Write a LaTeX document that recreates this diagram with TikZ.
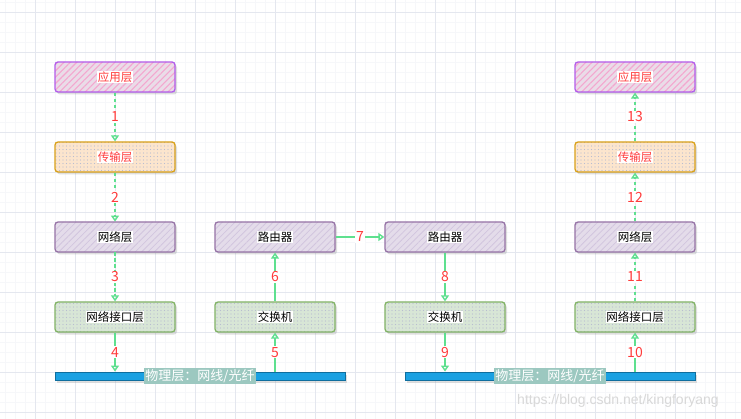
\documentclass[tikz,border=0pt]{standalone}
\usepackage{fontspec}
\setmainfont{Noto Sans CJK SC}
\newfontfamily\wmfont{Liberation Sans}
\usetikzlibrary{arrows.meta,patterns.meta,shadows}
\definecolor{gridminor}{HTML}{F6F7FA}
\definecolor{gridmajor}{HTML}{E4E7EF}
\definecolor{appfill}{HTML}{EADCE8}
\definecolor{apphatch}{HTML}{F4A6CF}
\definecolor{appdraw}{HTML}{B35CEB}
\definecolor{trfill}{HTML}{FCE5CD}
\definecolor{trdraw}{HTML}{D9A11A}
\definecolor{netfill}{HTML}{E4DCEA}
\definecolor{nethatch}{HTML}{D2C5DE}
\definecolor{netdraw}{HTML}{9673A6}
\definecolor{iffill}{HTML}{D8E6D6}
\definecolor{ifdraw}{HTML}{82B366}
\definecolor{dotcol}{HTML}{B8BCD0}
\definecolor{barfill}{HTML}{1BA1E2}
\definecolor{bardraw}{HTML}{0F6E9E}
\definecolor{barlab}{HTML}{9CC8C0}
\definecolor{edgecol}{HTML}{5EE08F}
\definecolor{numred}{HTML}{FF3B3B}
\definecolor{wmcol}{HTML}{D8D8D8}
\tikzset{
  box/.style={draw, rounded corners=3pt, minimum width=120pt, minimum height=30pt,
    line width=1.3pt, inner sep=0pt, font=\fontsize{11.5}{12}\selectfont,
    drop shadow={opacity=0.25, shadow xshift=2pt, shadow yshift=-2.5pt}},
  appbox/.style={box, draw=appdraw, preaction={fill=appfill},
    pattern={Lines[angle=45, distance=4.5pt, line width=1.1pt]}, pattern color=apphatch},
  trbox/.style={box, draw=trdraw, preaction={fill=trfill},
    pattern={Dots[radius=0.6pt, distance=3.5pt]}, pattern color=dotcol},
  netbox/.style={box, draw=netdraw, preaction={fill=netfill},
    pattern={Lines[angle=45, distance=4.5pt, line width=0.8pt]}, pattern color=nethatch},
  ifbox/.style={box, draw=ifdraw, preaction={fill=iffill},
    pattern={Dots[radius=0.6pt, distance=3.5pt]}, pattern color=dotcol},
  physbar/.style={draw=bardraw, fill=barfill, line width=0.9pt, minimum width=290pt,
    minimum height=8pt, inner sep=0pt,
    drop shadow={opacity=0.25, shadow xshift=2pt, shadow yshift=-2.5pt}},
  barlbl/.style={fill=barlab, text=white, inner sep=1pt, font=\fontsize{13}{14}\selectfont},
  flow/.style={draw=edgecol, line width=1.4pt, -{Triangle[open, length=6pt, width=8pt]}},
  dflow/.style={flow, dash pattern=on 3.5pt off 2.5pt},
  num/.style={fill=white, text=numred, inner sep=1pt, font=\fontsize{14}{14}\selectfont}
}
\newcommand{\wbg}[1]{{\setlength\fboxsep{0.6pt}\colorbox{white}{#1}}}
\begin{document}
\begin{tikzpicture}[x=1pt, y=-1pt]
\useasboundingbox (0,0) rectangle (741,419);
\fill[white] (0,0) rectangle (741,419);
\foreach \x in {5,15,...,740} \draw[gridminor, line width=0.6pt] (\x,0) -- (\x,419);
\foreach \y in {2,12,...,419} \draw[gridminor, line width=0.6pt] (0,\y) -- (741,\y);
\foreach \x in {35,75,...,740} \draw[gridmajor, line width=0.8pt] (\x,0) -- (\x,419);
\foreach \y in {12,52,...,419} \draw[gridmajor, line width=0.8pt] (0,\y) -- (741,\y);

% left stack
\node[appbox] (a1) at (115,77)  {\wbg{\textcolor{numred}{应用层}}};
\node[trbox]  (a2) at (115,157) {\wbg{\textcolor{numred}{传输层}}};
\node[netbox] (a3) at (115,237) {\wbg{网络层}};
\node[ifbox]  (a4) at (115,317) {\wbg{网络接口层}};
% first relay
\node[netbox] (r1) at (275,237) {\wbg{路由器}};
\node[ifbox]  (s1) at (275,317) {\wbg{交换机}};
% second relay
\node[netbox] (r2) at (445,237) {\wbg{路由器}};
\node[ifbox]  (s2) at (445,317) {\wbg{交换机}};
% right stack
\node[appbox] (b1) at (635,77)  {\wbg{\textcolor{numred}{应用层}}};
\node[trbox]  (b2) at (635,157) {\wbg{\textcolor{numred}{传输层}}};
\node[netbox] (b3) at (635,237) {\wbg{网络层}};
\node[ifbox]  (b4) at (635,317) {\wbg{网络接口层}};
% physical bars
\node[physbar] (bar1) at (200,376) {};
\node[physbar] (bar2) at (550,376) {};

% connectors
\draw[dflow] (a1) -- node[num] {1} (a2);
\draw[dflow] (a2) -- node[num] {2} (a3);
\draw[dflow] (a3) -- node[num] {3} (a4);
\draw[flow] (a4) -- node[num] {4} (a4 |- bar1.north);
\draw[flow] (s1 |- bar1.north) -- node[num] {5} (s1);
\draw[flow] (s1) -- node[num] {6} (r1);
\draw[flow] (r1) -- node[num] {7} (r2);
\draw[flow] (r2) -- node[num] {8} (s2);
\draw[flow] (s2) -- node[num] {9} (s2 |- bar2.north);
\draw[flow] (b4 |- bar2.north) -- node[num] {10} (b4);
\draw[dflow] (b4) -- node[num] {11} (b3);
\draw[dflow] (b3) -- node[num] {12} (b2);
\draw[dflow] (b2) -- node[num] {13} (b1);

% bar labels
\node[barlbl] (p1) at (bar1) {物理层：网线/光纤};
\node[barlbl] (p2) at (bar2) {物理层：网线/光纤};

% watermark
\node[text=wmcol, font=\wmfont\fontsize{14}{14}\selectfont, inner sep=0pt] (wm) at (618,401) {https://blog.csdn.net/kingforyang};
\end{tikzpicture}
\end{document}
